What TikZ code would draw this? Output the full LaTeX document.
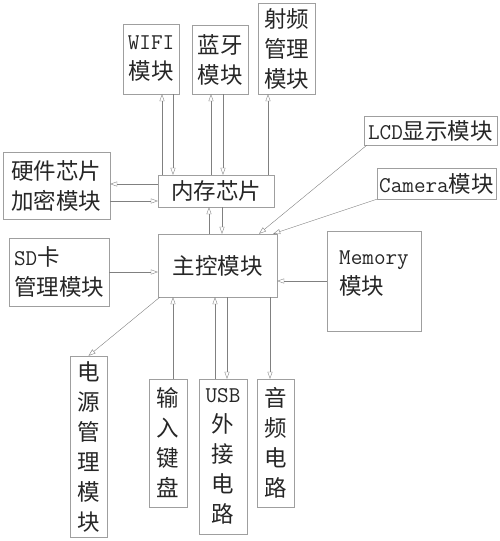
\documentclass[tikz,border=0pt]{standalone}
\usepackage{fontspec}
\newfontfamily\cjk{Noto Sans CJK SC}
\usetikzlibrary{arrows.meta}
\newcommand{\lat}[1]{{\ttfamily #1}}
\tikzset{
	box/.style={draw=gray!75, thin, text=black!85, inner sep=0pt, align=center, font=\cjk\fontsize{22.5}{30}\selectfont},
	link/.style={draw=gray, thin, -{Triangle[open,length=7pt,width=5pt]}}
}
\begin{document}
\begin{tikzpicture}[x=1pt,y=-1pt]
		\useasboundingbox (0,0) rectangle (500,541);
		\node[box, minimum width=56pt, minimum height=70pt] (wifi) at (151.0,59.0) {\lat{WIFI}\\模块};
		\node[box, minimum width=56pt, minimum height=69pt] (blue) at (220.0,59.5) {蓝牙\\模块};
		\node[box, minimum width=57pt, minimum height=91pt] (rf) at (286.5,48.5) {射频\\管理\\模块};
		\node[box, minimum width=107pt, minimum height=67pt] (hw) at (56.5,185.5) {硬件芯片\\加密模块};
		\node[box, minimum width=116pt, minimum height=32pt] (mem) at (216.0,191.0) {内存芯片};
		\node[box, minimum width=133pt, minimum height=29pt] (lcd) at (430.5,130.5) {\lat{LCD}显示模块};
		\node[box, minimum width=119pt, minimum height=31pt] (cam) at (436.5,183.5) {\lat{Camera}模块};
		\node[box, minimum width=100pt, minimum height=68pt, align=left] (sd) at (59.0,272.0) {\lat{SD}卡\\管理模块};
		\node[box, minimum width=119pt, minimum height=63pt] (mcu) at (217.5,265.5) {主控模块};
		\node[box, minimum width=94pt, minimum height=100pt, align=left] (memory) at (374.0,281.0) {\lat{Memory}\\模块\\[-14pt]};
		\node[box, minimum width=37pt, minimum height=181pt] (pwr) at (88.5,446.5) {电\\源\\管\\理\\模\\块};
		\node[box, minimum width=38pt, minimum height=128pt] (key) at (168.0,443.0) {输\\入\\键\\盘};
		\node[box, minimum width=48pt, minimum height=155pt] (usb) at (223.0,456.5) {\lat{USB}\\外\\接\\电\\路};
		\node[box, minimum width=37pt, minimum height=128pt] (audio) at (275.5,443.0) {音\\频\\电\\路};
		\draw[link] ([xshift=11pt]wifi.south |- mem.north) -- ([xshift=11pt]wifi.south);
		\draw[link] ([xshift=22pt]wifi.south) -- ([xshift=22pt]wifi.south |- mem.north);
		\draw[link] ([xshift=-9pt]blue.south |- mem.north) -- ([xshift=-9pt]blue.south);
		\draw[link] ([xshift=3pt]blue.south) -- ([xshift=3pt]blue.south |- mem.north);
		\draw[link] ([xshift=-18.5pt]rf.south |- mem.north) -- ([xshift=-18.5pt]rf.south);
		\draw[link] ([yshift=7pt]mem.west) -- ([yshift=7pt]mem.west -| hw.east);
		\draw[link] ([yshift=-10pt]mem.west -| hw.east) -- ([yshift=-10pt]mem.west);
		\draw[link] ([xshift=-8.5pt]mcu.north) -- ([xshift=-8.5pt]mcu.north |- mem.south);
		\draw[link] ([xshift=4.5pt]mcu.north |- mem.south) -- ([xshift=4.5pt]mcu.north);
		\draw[link] ([xshift=3pt]lcd.south west) -- ([xshift=41.5pt]mcu.north);
		\draw[link] (cam.south west) -- ([xshift=-4pt]mcu.north east);
		\draw[link] (memory.west) -- (memory.west -| mcu.east);
		\draw[link] (sd.east) -- (sd.east -| mcu.west);
		\draw[link] ([xshift=2pt]mcu.south west) -- (pwr.north);
		\draw[link] ([xshift=5pt]key.north) -- ([xshift=5pt]key.north |- mcu.south);
		\draw[link] ([xshift=-8pt]usb.north) -- ([xshift=-8pt]usb.north |- mcu.south);
		\draw[link] ([xshift=4pt]usb.north |- mcu.south) -- ([xshift=4pt]usb.north);
		\draw[link] ([xshift=-5.5pt]audio.north |- mcu.south) -- ([xshift=-5.5pt]audio.north);
	\end{tikzpicture}
\end{document}
